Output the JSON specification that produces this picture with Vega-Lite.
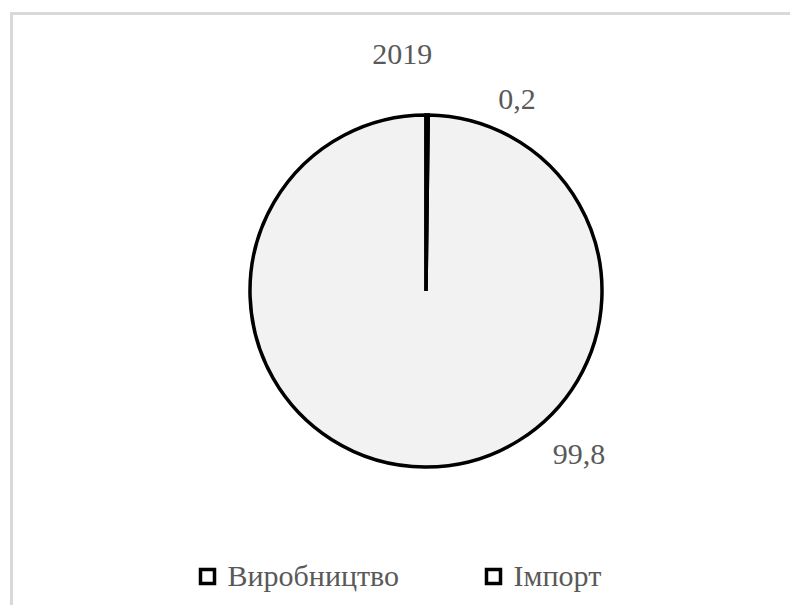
{
  "$schema": "https://vega.github.io/schema/vega-lite/v6.json",
  "width": 781.5,
  "height": 594.5,
  "autosize": {"type": "none"},
  "padding": {"left": 11.5, "top": 13.5, "right": -3, "bottom": -3},
  "background": "white",
  "view": {"stroke": "#d9d9d9", "strokeWidth": 3, "fill": "white"},
  "config": {
    "view": {"stroke": "#d9d9d9", "strokeWidth": 3},
    "font": "Liberation Serif",
    "locale": {"number": {"decimal": ",", "thousands": " ", "grouping": [3], "currency": ["", ""]}}
  },
  "title": {
    "text": "2019",
    "fontSize": 30,
    "font": "Liberation Serif",
    "fontWeight": "normal",
    "color": "#595959",
    "anchor": "middle",
    "baseline": "top",
    "offset": -56
  },
  "data": {
    "values": [
      {"category": "Виробництво", "value": 99.8},
      {"category": "Імпорт", "value": 0.2}
    ]
  },
  "layer": [
    {
      "mark": {"type": "arc", "outerRadius": 176, "stroke": "#000000", "strokeWidth": 3.5, "xOffset": 23.75, "yOffset": -19.75},
      "encoding": {
        "theta": {"field": "value", "type": "quantitative", "stack": true},
        "color": {
          "field": "category",
          "type": "nominal",
          "scale": {"domain": ["Виробництво", "Імпорт"], "range": ["#f2f2f2", "#000000"]},
          "legend": {
            "orient": "none",
            "legendX": 181,
            "legendY": 548,
            "direction": "horizontal",
            "title": null,
            "symbolType": "square",
            "symbolSize": 196,
            "symbolStrokeWidth": 3,
            "symbolStrokeColor": "#000000",
            "labelFont": "Liberation Serif",
            "labelFontSize": 30,
            "labelColor": "#595959",
            "labelOffset": 5,
            "labelLimit": 400,
            "columnPadding": 79,
            "padding": 0,
            "encode": {
              "symbols": {"update": {"fillOpacity": {"value": 0}, "stroke": {"value": "#000000"}, "strokeWidth": {"value": 3.5}}}
            }
          }
        }
      }
    },
    {
      "transform": [{"filter": "datum.category === 'Імпорт'"}],
      "mark": {"type": "text", "theta": 0.445, "radius": 211.6, "dx": 23.75, "dy": -19.75, "fontSize": 30, "font": "Liberation Serif", "color": "#595959", "align": "center", "baseline": "middle"},
      "encoding": {"text": {"field": "value", "type": "quantitative", "format": ".1f"}}
    },
    {
      "transform": [{"filter": "datum.category === 'Виробництво'"}],
      "mark": {"type": "text", "theta": 2.391, "radius": 224.3, "dx": 23.75, "dy": -19.75, "fontSize": 30, "font": "Liberation Serif", "color": "#595959", "align": "center", "baseline": "middle"},
      "encoding": {"text": {"field": "value", "type": "quantitative", "format": ".1f"}}
    }
  ]
}
